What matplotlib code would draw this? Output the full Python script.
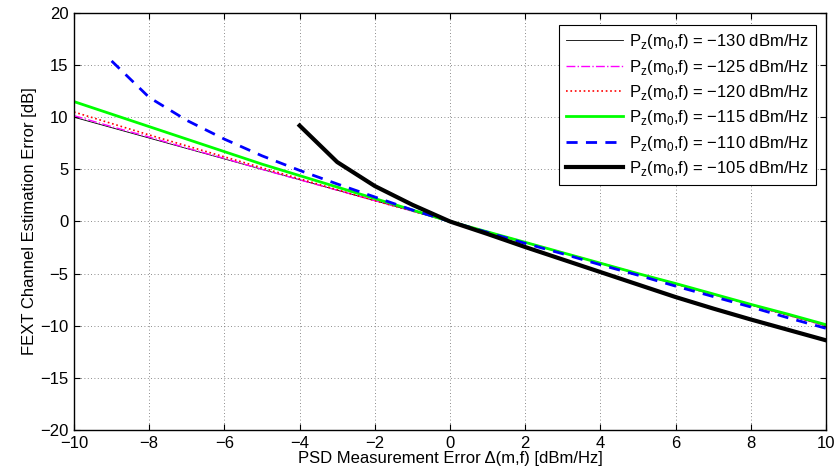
import numpy as np
import matplotlib
matplotlib.use("Agg")
import matplotlib.pyplot as plt

plt.rcParams['font.family'] = ['Liberation Sans', 'DejaVu Sans']
plt.rcParams['font.size'] = 12

x = list(range(-10, 11))
x_blue = list(range(-9, 11))
x_thick = list(range(-4, 11))

y_130 = [10, 9, 8, 7, 6, 5, 4, 3, 2, 1, 0, -1, -2, -3, -4, -5, -6, -7, -8, -9, -10]
y_125 = [10.15, 9.1, 8.1, 7.05, 6.05, 5.0, 4.0, 3.0, 2.0, 1.0, 0,
         -1.0, -2.0, -3.0, -4.0, -5.0, -6.0, -7.0, -8.0, -9.0, -10.0]
y_120 = [10.5, 9.4, 8.3, 7.25, 6.2, 5.15, 4.1, 3.05, 2.0, 1.0, 0,
         -1.0, -2.0, -3.0, -4.0, -5.0, -6.0, -7.0, -8.0, -9.0, -10.0]
y_115 = [11.5, 10.3, 9.1, 7.9, 6.7, 5.5, 4.4, 3.3, 2.2, 1.1, 0,
         -1.0, -2.0, -3.0, -4.0, -5.0, -5.95, -6.95, -7.95, -8.9, -9.9]
y_110 = [15.4, 11.9, 9.7, 7.9, 6.3, 4.9, 3.6, 2.35, 1.1, 0,
         -1.05, -2.1, -3.1, -4.15, -5.15, -6.2, -7.2, -8.2, -9.25, -10.25]
y_105 = [9.2, 5.7, 3.4, 1.6, 0, -1.2, -2.45, -3.65, -4.85, -6.05,
         -7.25, -8.35, -9.4, -10.4, -11.4]

def lab(p):
    return r'P$_\mathregular{z}$(m$_\mathregular{0}$,f) = ' + '\u2212' + str(p) + ' dBm/Hz'

fig = plt.figure(figsize=(8.39, 4.69), dpi=100)
ax = fig.add_axes([0.0882, 0.0832, 0.8963, 0.8891])

ax.plot(x, y_130, color='black', lw=0.6, label=lab(130))
ax.plot(x, y_125, color='magenta', lw=1, linestyle='-.', label=lab(125))
ax.plot(x, y_120, color='red', lw=1.2, linestyle=':', label=lab(120))
ax.plot(x, y_115, color='#00ff00', lw=2, label=lab(115))
ax.plot(x_blue, y_110, color='blue', lw=2, linestyle=(0, (4, 3)), label=lab(110))
ax.plot(x_thick, y_105, color='black', lw=3, label=lab(105))

ax.set_xlim(-10, 10)
ax.set_ylim(-20, 20)
ax.set_xticks(np.arange(-10, 11, 2))
ax.set_yticks(np.arange(-20, 21, 5))
ax.set_xticklabels([str(v).replace('-', '\u2212') for v in range(-10, 11, 2)])
ax.set_yticklabels([str(v).replace('-', '\u2212') for v in range(-20, 21, 5)])
ax.tick_params(direction='in', top=True, right=True, length=4)
ax.tick_params(axis='x', pad=4)
ax.tick_params(axis='y', pad=4)
ax.grid(True, color='0.4', linestyle=(0, (1, 3)), lw=0.6)
for s in ax.spines.values():
    s.set_linewidth(1)

ax.set_xlabel('PSD Measurement Error \u0394(m,f) [dBm/Hz]', labelpad=0)
ax.set_ylabel('FEXT Channel Estimation Error [dB]', labelpad=2)

leg = ax.legend(loc='upper right', bbox_to_anchor=(0.987, 0.972), fancybox=False,
                edgecolor='black', framealpha=1, handlelength=3.4,
                labelspacing=0.38, borderpad=0.45, handletextpad=0.35,
                borderaxespad=0)
leg.get_frame().set_linewidth(0.8)

fig.savefig('out.png', dpi=100)
